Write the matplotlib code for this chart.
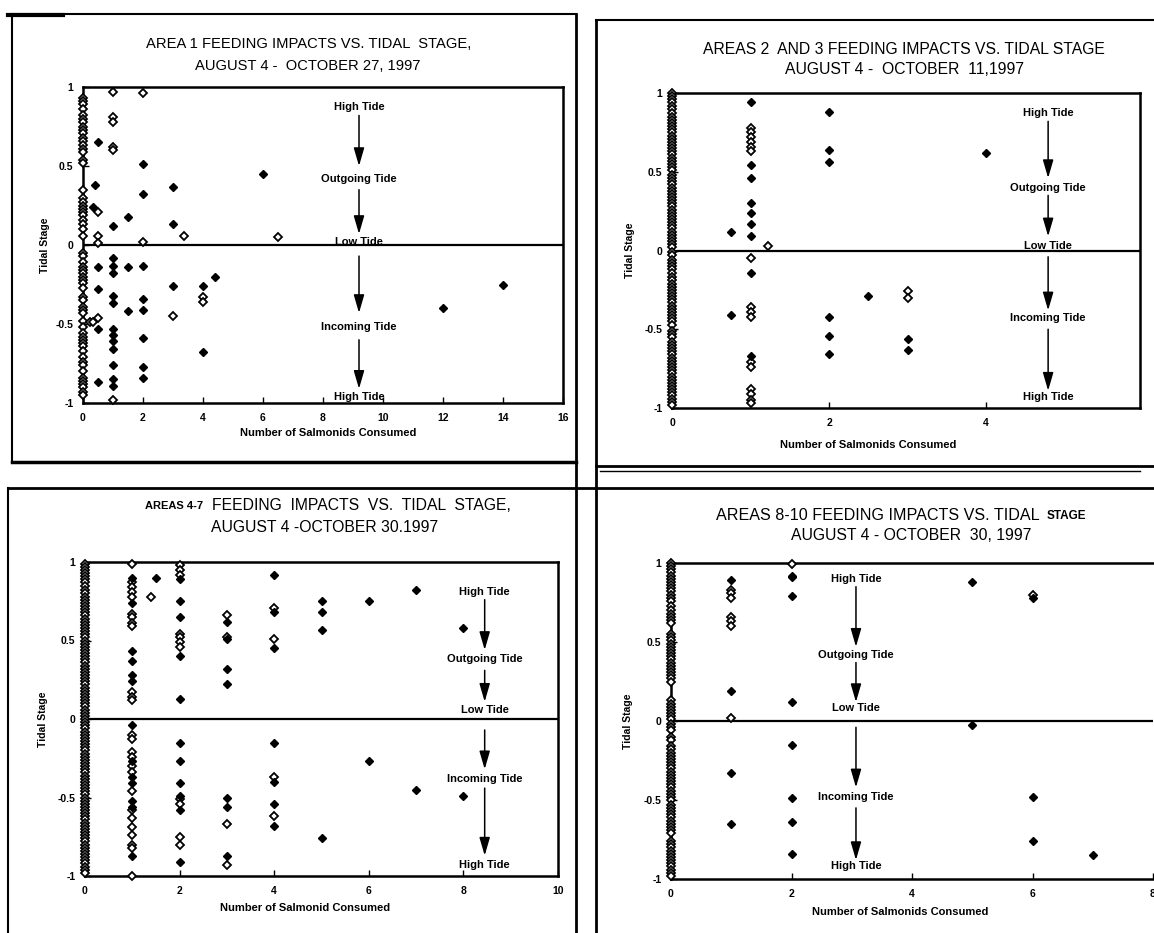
import matplotlib
matplotlib.use("Agg")
import matplotlib.pyplot as plt
from matplotlib.lines import Line2D

W, H = 1154, 933

# ---------------- data ----------------
# Panel 1: Area 1
a1_col0_y = [0.93, 0.91, 0.89, 0.86, 0.82, 0.80, 0.78, 0.75, 0.73, 0.71, 0.68, 0.66, 0.63, 0.61, 0.59,
             0.54, 0.52, 0.35, 0.30, 0.27, 0.25, 0.23, 0.21, 0.19, 0.16, 0.13, 0.10, 0.06, -0.05, -0.07,
             -0.11, -0.14, -0.16, -0.18, -0.20, -0.22, -0.24, -0.27, -0.33, -0.35, -0.39, -0.41, -0.43,
             -0.48, -0.52, -0.56, -0.58, -0.60, -0.62, -0.64, -0.67, -0.71, -0.74, -0.76, -0.80, -0.84,
             -0.86, -0.88, -0.90, -0.93, -0.95]
a1_open_x = [1, 2, 0.5, 0.5, 2, 3.35, 6.5, 0.22, 0.33, 0.5, 1, 1, 1, 1, 1, 4, 4, 3, 0.5]
a1_open_y = [0.97, 0.96, 0.06, 0.01, 0.02, 0.06, 0.05, -0.49, -0.49, -0.46, -0.98, 0.81, 0.78, 0.62, 0.60,
             -0.33, -0.36, -0.45, 0.21]
a1_fill_x = [0.5, 2, 0.4, 2, 3, 6, 0.33, 1.5, 1, 3, 0.5, 1, 1, 1, 1.5, 2, 4.4, 3, 4, 0.5, 1, 1, 2, 2, 1.5,
             0.5, 1, 1, 1, 1, 2, 4, 1, 2, 0.5, 1, 1, 2, 12, 14]
a1_fill_y = [0.65, 0.51, 0.38, 0.32, 0.37, 0.45, 0.24, 0.18, 0.12, 0.13, -0.14, -0.08, -0.13, -0.18, -0.14,
             -0.13, -0.20, -0.26, -0.26, -0.28, -0.32, -0.37, -0.34, -0.41, -0.42, -0.53, -0.53, -0.57,
             -0.61, -0.66, -0.59, -0.68, -0.76, -0.77, -0.87, -0.85, -0.89, -0.84, -0.40, -0.25]

# Panel 2: Areas 2 and 3
a23_col0_y = [1.00, 0.98, 0.96, 0.94, 0.92, 0.90, 0.87, 0.85, 0.83, 0.81, 0.79, 0.77, 0.75, 0.73, 0.71,
              0.69, 0.67, 0.65, 0.63, 0.61, 0.59, 0.57, 0.55, 0.53, 0.51, 0.48, 0.46, 0.44, 0.42, 0.40,
              0.38, 0.36, 0.34, 0.32, 0.30, 0.28, 0.26, 0.24, 0.22, 0.20, 0.18, 0.16, 0.14, 0.12, 0.10,
              0.08, 0.06, 0.04, 0.02, -0.01, -0.03, -0.06, -0.08, -0.10, -0.12, -0.14, -0.17, -0.19,
              -0.21, -0.23, -0.25, -0.27, -0.29, -0.31, -0.33, -0.35, -0.37, -0.39, -0.41, -0.43, -0.45,
              -0.47, -0.51, -0.53, -0.55, -0.58, -0.60, -0.62, -0.64, -0.66, -0.68, -0.70, -0.72, -0.74,
              -0.76, -0.78, -0.80, -0.82, -0.84, -0.86, -0.88, -0.90, -0.92, -0.94, -0.96, -0.98]
a23_open_x = [1, 1, 1, 1, 1, 1, 1, 1, 1, 1, 1, 1, 1, 1, 1, 1, 1.22, 3, 3]
a23_open_y = [0.78, 0.75, 0.72, 0.69, 0.66, 0.63, -0.05, -0.36, -0.39, -0.42, -0.71, -0.74, -0.88, -0.91,
              -0.95, -0.97, 0.03, -0.26, -0.30]
a23_fill_x = [1, 1, 1, 1, 1, 1, 1, 1, 1, 0.75, 0.75, 2, 2, 2, 2, 2, 2, 2.5, 3, 3, 4]
a23_fill_y = [0.94, 0.54, 0.46, 0.30, 0.24, 0.17, 0.09, -0.14, -0.67, 0.12, -0.41, 0.88, 0.64, 0.56,
              -0.42, -0.54, -0.66, -0.29, -0.56, -0.63, 0.62]

# Panel 3: Areas 4-7
a47_col0_y = [0.99, 0.97, 0.95, 0.93, 0.91, 0.89, 0.87, 0.85, 0.82, 0.80, 0.78, 0.76, 0.74, 0.72, 0.70,
              0.68, 0.66, 0.64, 0.62, 0.60, 0.58, 0.56, 0.54, 0.52, 0.50, 0.48, 0.46, 0.44, 0.42, 0.40,
              0.38, 0.36, 0.34, 0.32, 0.30, 0.28, 0.26, 0.24, 0.22, 0.20, 0.18, 0.16, 0.14, 0.12, 0.10,
              0.08, 0.06, 0.04, 0.02, 0.00, -0.02, -0.04, -0.06, -0.08, -0.10, -0.12, -0.14, -0.16,
              -0.18, -0.20, -0.22, -0.24, -0.26, -0.28, -0.30, -0.32, -0.34, -0.36, -0.38, -0.40, -0.42,
              -0.44, -0.46, -0.48, -0.50, -0.52, -0.54, -0.56, -0.58, -0.60, -0.62, -0.64, -0.66, -0.68,
              -0.70, -0.72, -0.74, -0.76, -0.78, -0.80, -0.82, -0.84, -0.86, -0.88, -0.90, -0.92, -0.94,
              -0.96, -0.98]
a47_open_x = [1] * 26 + [1.4] + [2] * 11 + [3] * 4 + [4] * 4
a47_open_y = [0.99, 0.87, 0.84, 0.81, 0.78, 0.67, 0.65, 0.61, 0.59, 0.17, 0.14, 0.12, -0.10, -0.13, -0.21,
              -0.24, -0.30, -0.34, -0.46, -0.58, -0.63, -0.69, -0.74, -0.80, -0.82, -1.00,
              0.78,
              0.98, 0.95, 0.92, 0.54, 0.52, 0.49, 0.46, -0.51, -0.54, -0.75, -0.80,
              0.66, 0.52, -0.67, -0.93,
              0.71, 0.51, -0.37, -0.62]
a47_fill_x = [1] * 13 + [1.5] + [2] * 11 + [3] * 7 + [4] * 7 + [5] * 4 + [6] * 2 + [7] * 2 + [8] * 2
a47_fill_y = [0.90, 0.74, 0.43, 0.37, 0.28, 0.24, -0.04, -0.27, -0.37, -0.41, -0.52, -0.56, -0.87,
              0.90,
              0.89, 0.75, 0.65, 0.40, 0.13, -0.15, -0.27, -0.41, -0.49, -0.58, -0.91,
              0.62, 0.51, 0.32, 0.22, -0.50, -0.56, -0.87,
              0.92, 0.68, 0.45, -0.15, -0.40, -0.54, -0.68,
              0.75, 0.68, 0.57, -0.76,
              0.75, -0.27,
              0.82, -0.45,
              0.58, -0.49]

# Panel 4: Areas 8-10
a810_col0_y = [1.00, 0.98, 0.96, 0.94, 0.92, 0.90, 0.88, 0.86, 0.84, 0.82, 0.80, 0.78, 0.76, 0.73, 0.70,
               0.68, 0.66, 0.64, 0.62, 0.55, 0.53, 0.51, 0.49, 0.47, 0.45, 0.43, 0.41, 0.39, 0.37, 0.35,
               0.33, 0.31, 0.29, 0.27, 0.25, 0.13, 0.11, 0.09, 0.07, 0.05, 0.03, 0.01, -0.02, -0.04,
               -0.06, -0.10, -0.12, -0.16, -0.18, -0.20, -0.22, -0.24, -0.26, -0.28, -0.30, -0.32, -0.34,
               -0.36, -0.38, -0.40, -0.42, -0.44, -0.46, -0.48, -0.50, -0.53, -0.55, -0.57, -0.59, -0.61,
               -0.63, -0.65, -0.67, -0.69, -0.71, -0.76, -0.78, -0.80, -0.82, -0.84, -0.86, -0.88, -0.90,
               -0.92, -0.94, -0.96, -0.98]
a810_open_x = [1, 1, 1, 1, 1, 1, 1, 2, 6]
a810_open_y = [0.83, 0.81, 0.78, 0.66, 0.63, 0.60, 0.02, 0.995, 0.80]
a810_fill_x = [1, 1, 1, 1, 2, 2, 2, 2, 2, 2, 2, 2, 5, 5, 6, 6, 6, 7]
a810_fill_y = [0.89, 0.19, -0.33, -0.65, 0.92, 0.91, 0.79, 0.12, -0.15, -0.49, -0.64, -0.84, 0.88, -0.025,
               0.78, -0.48, -0.76, -0.85]

tide_labels = ["High Tide", "Outgoing Tide", "Low Tide", "Incoming Tide", "High Tide"]
y_ticks = [-1, -0.5, 0, 0.5, 1]
y_ticklabels = ["-1", "-0.5", "0", "0.5", "1"]

# ---------------- figure ----------------
fig = plt.figure(figsize=(W / 100, H / 100), dpi=100)
TITLE_FONT = ["Liberation Sans", "DejaVu Sans"]
BOLD_FONT = ["Liberation Sans", "DejaVu Sans"]


def px_rect(l, t, r, b):
    return [l / W, 1 - b / H, (r - l) / W, (b - t) / H]


def fline(x0, y0, x1, y1, lw=1.5):
    fig.add_artist(Line2D([x0 / W, x1 / W], [1 - y0 / H, 1 - y1 / H],
                          transform=fig.transFigure, color="black", lw=lw))


def ftext(x, y, s, size, ha="center", **kw):
    fig.text(x / W, 1 - y / H, s, fontsize=size, ha=ha, va="center", **kw)


# document frames
fline(12, 14, 576, 14, 1.5)
fline(8, 15, 63, 15, 3)
fline(12, 14, 12, 462, 1.5)
fline(12, 462, 576, 462, 2.5)
fline(576, 14, 576, 933, 2.0)
fline(596, 20, 596, 933, 2.0)
fline(596, 20, 1154, 20, 1.5)
fline(596, 466, 1154, 466, 2.0)
fline(600, 471, 1140, 471, 1.0)
fline(8, 488, 1154, 488, 2.0)
fline(8, 488, 8, 933, 1.5)


def make_panel(rect, xlim, xticks, xticklabels, col0_y, open_x, open_y, fill_x, fill_y,
               tide_x, tide_text_y, arrows, xlabel, xlabel_pos, ylabel_dx, right_spine=True):
    ax = fig.add_axes(rect)
    ax.set_xlim(*xlim)
    ax.set_ylim(-1, 1)
    ax.axhline(0, color="black", lw=1.6, zorder=1)
    mk = dict(linestyle="none", marker="D", markersize=4.2, clip_on=False, zorder=3)
    ax.plot([0] * len(col0_y), col0_y, markerfacecolor="white", markeredgecolor="black",
            markeredgewidth=1.3, **mk)
    ax.plot(open_x, open_y, markerfacecolor="white", markeredgecolor="black",
            markeredgewidth=1.3, **mk)
    ax.plot(fill_x, fill_y, markerfacecolor="black", markeredgecolor="black",
            markeredgewidth=1.0, **mk)
    for s, ty in zip(tide_labels, tide_text_y):
        ax.text(tide_x, ty, s, ha="center", va="center", fontsize=8, fontweight="bold",
                family=BOLD_FONT, zorder=4)
    for y0, y1 in arrows:
        ax.annotate("", xy=(tide_x, y1), xytext=(tide_x, y0),
                    arrowprops=dict(arrowstyle="-|>,head_width=0.32,head_length=1.1",
                                    lw=1.1, color="black", shrinkA=0, shrinkB=0))
    for sp in ax.spines.values():
        sp.set_linewidth(1.8)
    if not right_spine:
        ax.spines["right"].set_visible(False)
    ax.set_xticks(xticks)
    ax.set_xticklabels(xticklabels)
    ax.set_yticks(y_ticks)
    ax.set_yticklabels(y_ticklabels)
    ax.tick_params(direction="in", length=4, width=1, labelsize=7.5, pad=7)
    for lab in ax.get_xticklabels() + ax.get_yticklabels():
        lab.set_fontweight("bold")
        lab.set_family(BOLD_FONT)
    ax.set_xlabel(xlabel, fontsize=8, fontweight="bold", family=BOLD_FONT, va="top")
    ax.xaxis.set_label_coords(*xlabel_pos)
    ax.set_ylabel("Tidal Stage", fontsize=7.5, fontweight="bold", family=BOLD_FONT)
    ax.yaxis.set_label_coords(ylabel_dx, 0.5)
    return ax


# Panel 1
make_panel(px_rect(83, 87, 563, 403), (0, 16), list(range(0, 17, 2)),
           [str(v) for v in range(0, 17, 2)],
           a1_col0_y, a1_open_x, a1_open_y, a1_fill_x, a1_fill_y,
           9.2, [0.875, 0.42, 0.02, -0.52, -0.965],
           [(0.82, 0.50), (0.35, 0.07), (-0.07, -0.43), (-0.60, -0.91)],
           "Number of Salmonids Consumed", (0.51, -0.08), -0.068)

# Panel 2
make_panel(px_rect(672, 93, 1140, 408), (0, 5.96), [0, 2, 4], ["0", "2", "4"],
           a23_col0_y, a23_open_x, a23_open_y, a23_fill_x, a23_fill_y,
           4.79, [0.87, 0.40, 0.03, -0.43, -0.93],
           [(0.82, 0.46), (0.35, 0.09), (-0.04, -0.38), (-0.50, -0.89)],
           "Number of Salmonids Consumed", (0.42, -0.10), -0.078)

# Panel 3
make_panel(px_rect(85, 562, 558, 876), (0, 10), list(range(0, 11, 2)),
           [str(v) for v in range(0, 11, 2)],
           a47_col0_y, a47_open_x, a47_open_y, a47_fill_x, a47_fill_y,
           8.45, [0.81, 0.38, 0.06, -0.38, -0.93],
           [(0.76, 0.44), (0.31, 0.11), (-0.07, -0.32), (-0.44, -0.87)],
           "Number of Salmonid Consumed", (0.465, -0.085), -0.078)

# Panel 4
make_panel(px_rect(671, 563, 1153, 879), (0, 8), list(range(0, 9, 2)),
           [str(v) for v in range(0, 9, 2)],
           a810_col0_y, a810_open_x, a810_open_y, a810_fill_x, a810_fill_y,
           3.07, [0.90, 0.42, 0.08, -0.48, -0.92],
           [(0.85, 0.47), (0.37, 0.12), (-0.04, -0.42), (-0.55, -0.88)],
           "Number of Salmonids Consumed", (0.475, -0.09), -0.079, right_spine=False)

# titles
ftext(309, 44, "AREA 1 FEEDING IMPACTS VS. TIDAL  STAGE,", 10.6, family=TITLE_FONT)
ftext(308, 66, "AUGUST 4 -  OCTOBER 27, 1997", 10.6, family=TITLE_FONT)
ftext(904, 50, "AREAS 2  AND 3 FEEDING IMPACTS VS. TIDAL STAGE", 11.3, family=TITLE_FONT)
ftext(904, 70, "AUGUST 4 -  OCTOBER  11,1997", 11.3, family=TITLE_FONT)
ftext(145, 506, "AREAS 4-7", 8, ha="left", fontweight="bold", family=BOLD_FONT)
ftext(212, 505, "FEEDING  IMPACTS  VS.  TIDAL  STAGE,", 11.3, ha="left", family=TITLE_FONT)
ftext(325, 527, "AUGUST 4 -OCTOBER 30.1997", 11.3, family=TITLE_FONT)
ftext(716, 515, "AREAS 8-10 FEEDING IMPACTS VS. TIDAL", 11.6, ha="left", family=TITLE_FONT)
ftext(1047, 516, "STAGE", 8.5, ha="left", fontweight="bold", family=BOLD_FONT)
ftext(911, 535, "AUGUST 4 - OCTOBER  30, 1997", 11.3, family=TITLE_FONT)

fig.savefig("out.png", dpi=100)
